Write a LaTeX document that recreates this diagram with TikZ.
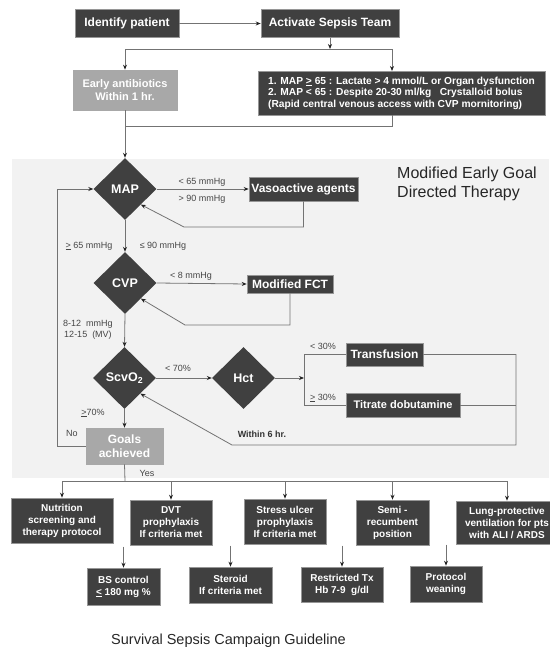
\documentclass[tikz,border=0pt]{standalone}
\usepackage{fontspec}
\setmainfont{Liberation Sans}
\usepackage{tikz}
\usetikzlibrary{shapes.geometric, calc, arrows.meta}
\definecolor{Dark_Box}{RGB}{64,64,64}
\definecolor{Light_Box}{RGB}{168,168,168}
\definecolor{Box_Edge}{RGB}{150,150,150}
\definecolor{Panel}{RGB}{242,242,242}
\definecolor{Connector}{RGB}{115,115,115}
\definecolor{Tip}{RGB}{35,35,35}
\definecolor{Label}{RGB}{70,70,70}
\newcommand{\ugeq}{\underline{>}}
\newcommand{\uleq}{\underline{<}}
\tikzset{
    darkbox/.style={rectangle, fill=Dark_Box, draw=Box_Edge, line width=0.6pt, text=white, align=center, inner sep=0pt, font=\fontsize{12}{14}\selectfont\bfseries},
    lightbox/.style={darkbox, fill=Light_Box, draw=Light_Box},
    smallbox/.style={darkbox, font=\fontsize{10}{12}\selectfont\bfseries},
    decision/.style={diamond, fill=Dark_Box, text=white, inner sep=0pt, font=\fontsize{12.5}{14}\selectfont\bfseries, minimum width=63pt, minimum height=62pt},
    conn/.style={draw=Connector, line width=0.8pt},
    arr/.style={conn, -{Stealth[length=5pt, width=4pt, color=Tip]}},
    lbl/.style={text=Label, inner sep=0pt, font=\fontsize{9}{10.5}\selectfont},
}

\begin{document}
\begin{tikzpicture}[x=1pt, y=-1pt]
    %% Background
    \useasboundingbox (0,0) rectangle (549,652);
    \fill[Panel] (12,159) rectangle (549,478);

    %% Recognition
    \node[darkbox, minimum width=104pt, minimum height=28pt] (ident) at (127,23.5) {Identify patient};
    \node[darkbox, minimum width=138pt, minimum height=28pt] (activate) at (330,23.5) {Activate Sepsis Team};
    \node[lightbox, minimum width=104pt, minimum height=40pt, font=\fontsize{11}{13}\selectfont\bfseries] (antib) at (125,90) {Early antibiotics\\Within 1 hr.};
    \node[darkbox, minimum width=287pt, minimum height=44pt, align=left, font=\fontsize{10.2}{11.4}\selectfont\bfseries] (crit) at (401.5,93)
        {1. MAP \ugeq{} 65 : Lactate > 4 mmol/L or Organ dysfunction\\
         2. MAP < 65 : Despite 20-30 ml/kg \ \ Crystalloid bolus\\
         (Rapid central venous access with CVP mornitoring)};

    \coordinate (split) at (330,49);
    \coordinate (critin) at (392,71);
    \coordinate (critout) at (392,115);
    \coordinate (join) at (125,126);

    \draw[arr] (ident) to (activate);
    \draw[arr] (activate.south) to (split);
    \draw[arr] (split) -| (antib.north);
    \draw[arr] (split) -| (critin);
    \draw[conn] (critout) |- (join);

    %% Modified early goal directed therapy
    \node[anchor=north west, align=left, inner sep=0pt, text=black!85, font=\fontsize{16}{19}\selectfont] (egdt) at (397,167) {Modified Early Goal\\Directed Therapy};

    \node[decision] (map) at (125,189) {MAP};
    \node[decision] (cvp) at (125,283) {CVP};
    \node[decision] (scvo) at (124.5,378) {ScvO\textsubscript{2}};
    \node[decision] (hct) at (243.5,378) {Hct};

    \node[darkbox, minimum width=109pt, minimum height=24pt] (vaso) at (303.5,189) {Vasoactive agents};
    \node[darkbox, minimum width=86pt, minimum height=18pt] (fct) at (290,284) {Modified FCT};
    \node[darkbox, minimum width=77pt, minimum height=23pt] (transf) at (384.5,354.5) {Transfusion};
    \node[darkbox, minimum width=114pt, minimum height=24pt, font=\fontsize{11}{13}\selectfont\bfseries] (titrate) at (403,405) {Titrate dobutamine};
    \node[lightbox, minimum width=77pt, minimum height=36pt] (goals) at (124.5,446) {Goals\\achieved};

    \coordinate (vasoret) at (184,227);
    \coordinate (fctret) at (185,325);
    \coordinate (hctsplit) at (304,378);
    \coordinate (loopcorner) at (516,445);
    \coordinate (loopbend) at (232,445);
    \coordinate (nocorner) at (57,446);

    \draw[arr] (antib.south) to (map.north);
    \draw[arr] (map.east) to (vaso.west);
    \draw[arr] (vaso.south) |- (vasoret) to (map.south east);
    \draw[arr] (map.south) to (cvp.north);
    \draw[arr] (cvp.east) to (fct.west);
    \draw[arr] (fct.south) |- (fctret) to (cvp.south east);
    \draw[arr] (cvp.south) to (scvo.north);
    \draw[arr] (scvo.east) to (hct.west);
    \draw[arr] (hct.east) to (hctsplit);
    \draw[conn] (transf.west) -| (hctsplit);
    \draw[conn] (titrate.west) -| (hctsplit);
    \draw[arr] (transf.east) -| (loopcorner) to (loopbend) to (scvo.south east);
    \draw[conn] (titrate.east) to (titrate.east -| loopcorner);
    \draw[arr] (scvo.south) to (goals.north);
    \draw[arr] (goals.west) to (nocorner) |- (map.west);

    \draw
    (202,182) node[lbl]{< 65 mmHg}
    (202,199) node[lbl]{> 90 mmHg}
    (89,246) node[lbl]{\ugeq{} 65 mmHg}
    (163,246) node[lbl]{≤ 90 mmHg}
    (191,276) node[lbl]{< 8 mmHg}
    (88,330) node[lbl, align=center]{8-12 \ mmHg\\12-15 \ (MV)}
    (178,368) node[lbl]{< 70\%}
    (323,346) node[lbl]{< 30\%}
    (323,398) node[lbl]{\ugeq{} 30\%}
    (93,413) node[lbl]{\ugeq{}70\%}
    (72,433) node[lbl]{No}
    (262,434) node[lbl, text=black!80, font=\fontsize{9}{10.5}\selectfont\bfseries]{Within 6 hr.}
    (147,473) node[lbl]{Yes}
    ;

    %% Supportive therapy
    \node[smallbox, minimum width=102pt, minimum height=45pt] (nutri) at (62,520.5) {Nutrition\\screening and\\therapy protocol};
    \node[smallbox, minimum width=82pt, minimum height=45pt] (dvt) at (171,522.5) {DVT\\prophylaxis\\If criteria met};
    \node[smallbox, minimum width=82pt, minimum height=45pt] (stress) at (285,521.5) {Stress ulcer\\prophylaxis\\If criteria met};
    \node[smallbox, minimum width=73pt, minimum height=45pt] (semi) at (392.5,522.5) {Semi -\\recumbent\\position};
    \node[smallbox, minimum width=102pt, minimum height=43pt] (lung) at (507,522.5) {Lung-protective\\ventilation for pts\\with ALI / ARDS};

    \node[smallbox, minimum width=73pt, minimum height=37pt] (bsctl) at (123.5,586.5) {BS control\\\uleq{} 180 mg \%};
    \node[smallbox, minimum width=83pt, minimum height=36pt] (steroid) at (230.5,585) {Steroid\\If criteria met};
    \node[smallbox, minimum width=82pt, minimum height=35pt] (restr) at (342,584.5) {Restricted Tx\\Hb 7-9 \ g/dl};
    \node[smallbox, minimum width=72pt, minimum height=36pt] (proto) at (446,584) {Protocol\\weaning};

    \coordinate (yes) at (125,481);
    \draw[conn] (goals.south) to (yes);
    \foreach \n in {nutri,dvt,stress,semi,lung}
    {
        \draw[arr] (yes) -| (\n.north);
    }
    \foreach \n in {bsctl,steroid,restr,proto}
    {
        \coordinate (\n-top) at ($(\n.north)+(0,-21)$);
        \draw[arr] (\n-top) to (\n.north);
    }

    %% Caption
    \node[inner sep=0pt, text=black!85, font=\fontsize{14.5}{17}\selectfont] (caption) at (228.5,641) {Survival Sepsis Campaign Guideline};
\end{tikzpicture}
\end{document}
